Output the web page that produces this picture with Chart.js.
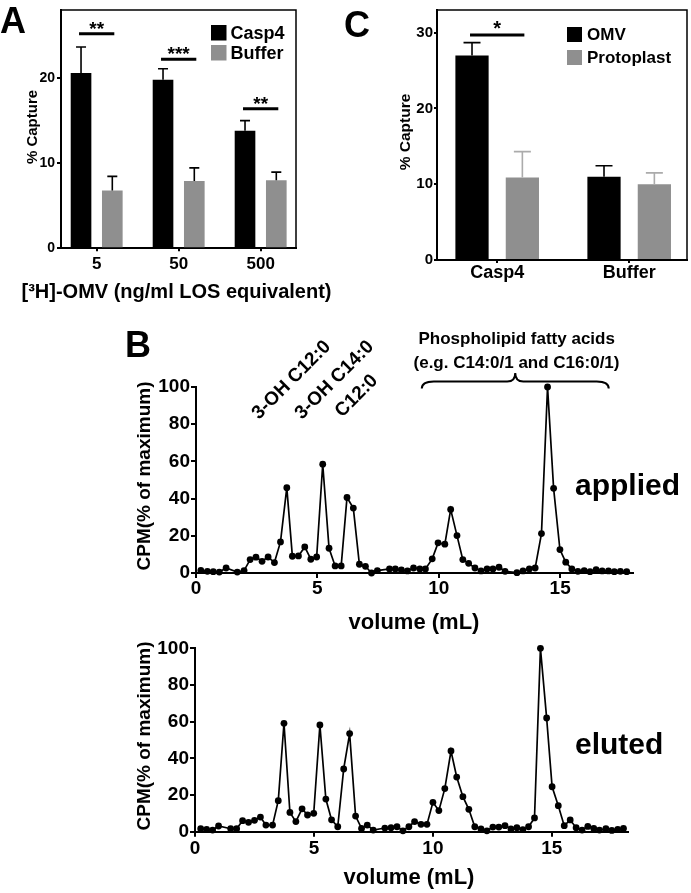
<!DOCTYPE html>
<html>
<head>
<meta charset="utf-8">
<script src="https://cdn.jsdelivr.net/npm/chart.js@4.4.0/dist/chart.umd.min.js"></script>
<style>
body{margin:0;background:#fff;}
#wrap{position:relative;width:691px;height:893px;}
canvas{position:absolute;left:0;top:0;}
</style>
</head>
<body>
<div id="wrap">
<canvas id="chartA" width="691" height="893"></canvas>
<canvas id="chartC" width="691" height="893"></canvas>
<canvas id="chartB1" width="691" height="893"></canvas>
<canvas id="chartB2" width="691" height="893"></canvas>
</div>
<script>
// PANEL A
const catsA = ['5', '50', '500'];
const casp4A = [20.6, 19.8, 13.8];
const casp4ErrA = [3.05, 1.3, 1.2];
const bufferA = [6.8, 7.9, 8.0];
const bufferErrA = [1.65, 1.55, 0.95];
const sigLevelA = [25.2, 22.2, 16.4];
const sigTextA = ['**', '***', '**'];

// PANEL C
const catsC = ['Casp4', 'Buffer'];
const omvC = [27.0, 11.0];
const omvErrC = [1.7, 1.45];
const protoC = [10.9, 10.0];
const protoErrC = [3.4, 1.5];
const sigLevelC = [29.7];
const sigTextC = ['*'];

// PANEL B - applied
const appliedVol = [0.2,0.47,0.71,0.96,1.24,1.7,1.98,2.23,2.47,2.72,2.97,3.23,3.48,3.74,3.97,4.22,4.48,4.73,4.97,5.22,5.48,5.73,5.98,6.22,6.48,6.73,6.98,7.23,7.47,7.97,8.21,8.46,8.71,8.96,9.22,9.45,9.73,9.97,10.25,10.49,10.75,10.99,11.23,11.49,11.74,11.99,12.23,12.48,12.73,13.22,13.47,13.73,13.97,14.23,14.48,14.73,14.99,15.23,15.48,15.73,15.99,16.23,16.48,16.73,16.99,17.23,17.48,17.74];
const appliedCpm = [1.4,0.9,0.7,0.5,2.7,0.5,1.3,7.2,8.5,6.3,8.6,5.6,16.7,45.9,9.0,9.2,14.0,7.4,8.6,58.5,13.3,3.8,3.8,40.6,34.9,4.7,3.6,0,1.3,2.2,2.2,1.6,1.1,2.7,2.2,2.2,7.6,16.2,15.5,34.2,20.1,7.2,5.2,2.7,1.1,2.2,2.2,3.1,0.9,0.2,1.1,2.2,2.7,21.2,100,45.5,12.6,5.8,2.2,0.9,1.3,0.7,1.8,1.1,1.1,0.7,0.9,0.7];

// PANEL B - eluted
const elutedVol = [0.24,0.49,0.74,0.99,1.5,1.75,2.0,2.25,2.5,2.75,2.98,3.26,3.5,3.74,3.99,4.24,4.5,4.73,4.99,5.25,5.5,5.74,6.0,6.25,6.5,6.75,7.0,7.24,7.49,7.98,8.24,8.49,8.74,8.99,9.23,9.5,9.75,10.0,10.25,10.5,10.76,11.0,11.26,11.51,11.76,12.02,12.27,12.52,12.77,13.03,13.28,13.53,13.78,14.02,14.27,14.52,14.78,15.01,15.27,15.52,15.77,16.02,16.27,16.51,16.76,17.0,17.27,17.52,17.77,18.01];
const elutedCpm = [1.6,1.3,0.9,3.1,1.6,1.6,6.0,5.1,6.2,8.0,3.6,3.6,16.9,59.1,10.5,5.5,12.5,9.1,10,58.2,17.8,6.5,2.7,34.2,53.5,8.5,1.8,3.6,0.9,2.0,2.2,2.7,0.5,2.7,5.5,4,4,16,11.5,23.5,44,29.8,19.1,12.2,2.7,1.5,0.5,2.5,2.5,3.3,1.5,2.2,1.1,2.7,7.5,100,62,24.5,14.2,3.3,6.4,2.2,0.9,2.9,1.8,0.9,1.6,0.7,1.3,1.8];
const volTicks = [0, 5, 10, 15];
const cpmTicks = [0, 20, 40, 60, 80, 100];

const FONT = '"Liberation Sans", Arial, Helvetica, sans-serif';
Chart.defaults.font.family = FONT;
Chart.defaults.color = '#000';
const BLACK = '#000000', GREY = '#8f8f8f', LIGHTGREY = '#ababab';

function bold(size){ return {size: size, weight: 'bold', lineHeight: 1}; }

// PLUGINS
const errorBars = {
    id: 'errorBars',
    afterDatasetsDraw(chart, args, opts){
        const ctx = chart.ctx, ys = chart.scales.y;
        chart.data.datasets.forEach((ds, i)=>{
            chart.getDatasetMeta(i).data.forEach((bar, j)=>{
                const top = ys.getPixelForValue(ds.data[j].y + ds.errors[j]);
                ctx.save();
                ctx.strokeStyle = ds.errorColor;
                ctx.lineWidth = 1.6;
                ctx.beginPath();
                ctx.moveTo(bar.x, bar.y);
                ctx.lineTo(bar.x, top);
                ctx.moveTo(bar.x - opts.cap, top);
                ctx.lineTo(bar.x + opts.cap, top);
                ctx.stroke();
                ctx.restore();
            });
        });
    }
};

const sigBars = {
    id: 'sigBars',
    afterDatasetsDraw(chart, args, opts){
        const ctx = chart.ctx, ys = chart.scales.y;
        const m0 = chart.getDatasetMeta(0).data, m1 = chart.getDatasetMeta(1).data;
        opts.levels.forEach((lv, i)=>{
            const y = ys.getPixelForValue(lv);
            const x0 = m0[i].x - 2, x1 = m1[i].x + 2;
            ctx.save();
            ctx.strokeStyle = BLACK;
            ctx.lineWidth = 3;
            ctx.beginPath(); ctx.moveTo(x0, y); ctx.lineTo(x1, y); ctx.stroke();
            ctx.fillStyle = BLACK;
            ctx.font = 'bold ' + opts.size + 'px ' + FONT;
            ctx.textAlign = 'center';
            ctx.textBaseline = 'alphabetic';
            ctx.fillText(opts.texts[i], (x0 + x1) / 2, y + opts.lift);
            ctx.restore();
        });
    }
};

const frame = {
    id: 'frame',
    afterDraw(chart){
        const {ctx, chartArea: a} = chart;
        ctx.save();
        ctx.strokeStyle = BLACK; ctx.lineWidth = 1.5;
        ctx.beginPath();
        ctx.moveTo(a.left, a.top); ctx.lineTo(a.right, a.top); ctx.lineTo(a.right, a.bottom);
        ctx.stroke();
        ctx.restore();
    }
};

const boxLegend = {
    id: 'boxLegend',
    afterDraw(chart, args, opts){
        const ctx = chart.ctx;
        chart.data.datasets.forEach((ds, i)=>{
            const y = opts.y + i * opts.step;
            ctx.save();
            ctx.fillStyle = ds.backgroundColor;
            ctx.fillRect(opts.x, y, opts.box, opts.box);
            ctx.fillStyle = BLACK;
            ctx.font = 'bold ' + opts.size + 'px ' + FONT;
            ctx.textBaseline = 'middle';
            ctx.fillText(ds.label, opts.x + opts.box + opts.gap, y + opts.box / 2 + 1);
            ctx.restore();
        });
    }
};

const texts = {
    id: 'texts',
    afterDraw(chart, args, opts){
        const ctx = chart.ctx;
        opts.items.forEach(it=>{
            ctx.save();
            ctx.translate(it.x, it.y);
            if(it.rot) ctx.rotate(it.rot * Math.PI / 180);
            ctx.fillStyle = BLACK;
            ctx.font = 'bold ' + it.size + 'px ' + FONT;
            ctx.textAlign = it.align || 'center';
            ctx.textBaseline = it.baseline || 'middle';
            ctx.fillText(it.t, 0, 0);
            ctx.restore();
        });
    }
};

const brace = {
    id: 'brace',
    afterDraw(chart, args, opts){
        if(!opts.from) return;
        const ctx = chart.ctx, xs = chart.scales.x, top = chart.chartArea.top;
        const x0 = xs.getPixelForValue(opts.from), x1 = xs.getPixelForValue(opts.to);
        const xm = (x0 + x1) / 2;
        const yb = top + 1.5, yh = top - 5.5, yt = top - 14;
        ctx.save();
        ctx.strokeStyle = BLACK; ctx.lineWidth = 2;
        ctx.beginPath();
        ctx.moveTo(x0, yb);
        ctx.quadraticCurveTo(x0, yh, x0 + 12, yh);
        ctx.lineTo(xm - 8, yh);
        ctx.quadraticCurveTo(xm, yh, xm, yt);
        ctx.quadraticCurveTo(xm, yh, xm + 8, yh);
        ctx.lineTo(x1 - 12, yh);
        ctx.quadraticCurveTo(x1, yh, x1, yb);
        ctx.stroke();
        ctx.restore();
    }
};

// AXES
function yAxis(max, ticks, size, tick, pad, width){
    return {
        min: 0, max: max,
        border: {color: BLACK, width: 2},
        grid: {drawOnChartArea: false, color: BLACK, lineWidth: 2, tickLength: tick},
        ticks: {font: bold(size), color: BLACK, padding: pad},
        afterBuildTicks(s){ s.ticks = ticks.map(v=>({value: v})); },
        afterFit(s){ s.width = width; }
    };
}

function catAxis(cats, min, max, size, pad){
    return {
        type: 'linear', min: min, max: max, offset: false,
        border: {color: BLACK, width: 2},
        grid: {drawOnChartArea: false, offset: false, color: BLACK, lineWidth: 2, tickLength: 3},
        ticks: {font: bold(size), color: BLACK, padding: pad, maxRotation: 0, autoSkip: false,
            callback: v => cats[v - 1]},
        afterBuildTicks(s){ s.ticks = cats.map((c, i)=>({value: i + 1})); },
        afterFit(s){ s.height = 30; }
    };
}

function volAxis(max, pad){
    return {
        type: 'linear', min: 0, max: max,
        border: {color: BLACK, width: 2},
        grid: {drawOnChartArea: false, color: BLACK, lineWidth: 2, tickLength: 5},
        ticks: {font: bold(19), color: BLACK, padding: pad, maxRotation: 0},
        afterBuildTicks(s){ s.ticks = volTicks.map(v=>({value: v})); },
        afterFit(s){ s.height = 30; }
    };
}

function bars(label, vals, errs, color, errColor){
    return {
        label: label,
        data: vals.map((v, i)=>({x: i + 1, y: v})),
        errors: errs,
        errorColor: errColor,
        backgroundColor: color,
        borderWidth: 0,
        barPercentage: 0.66,
        categoryPercentage: 0.763
    };
}

const base = {responsive: false, animation: false, events: []};

// CHART A
new Chart(document.getElementById('chartA'), {
    type: 'bar',
    data: {datasets: [
        bars('Casp4', casp4A, casp4ErrA, BLACK, BLACK),
        bars('Buffer', bufferA, bufferErrA, GREY, BLACK)
    ]},
    options: Object.assign({}, base, {
        layout: {padding: {left: 0, top: 10, right: 395, bottom: 614.7}},
        scales: {
            x: catAxis(catsA, 0.565, 3.431, 17, 5),
            y: yAxis(28, [0, 10, 20], 14, 4, 2, 61)
        },
        plugins: {
            legend: {display: false}, tooltip: {enabled: false},
            errorBars: {cap: 5},
            sigBars: {levels: sigLevelA, texts: sigTextA, size: 19, lift: 1},
            boxLegend: {x: 211, y: 25, box: 15.5, step: 20, gap: 4, size: 18},
            texts: {items: [
                {t: 'A', x: 0, y: 33, size: 36, align: 'left', baseline: 'alphabetic'},
                {t: '% Capture', x: 33, y: 127, size: 15, rot: -90},
                {t: '[³H]-OMV (ng/ml LOS equivalent)', x: 176.5, y: 292, size: 20}
            ]}
        }
    }),
    plugins: [errorBars, sigBars, frame, boxLegend, texts]
});

// CHART C
new Chart(document.getElementById('chartC'), {
    type: 'bar',
    data: {datasets: [
        bars('OMV', omvC, omvErrC, BLACK, BLACK),
        bars('Protoplast', protoC, protoErrC, GREY, LIGHTGREY)
    ]},
    options: Object.assign({}, base, {
        layout: {padding: {left: 397, top: 10, right: 4, bottom: 603}},
        scales: {
            x: catAxis(catsC, 0.544, 2.438, 18, 1),
            y: yAxis(33, [0, 10, 20, 30], 15, 3, 1, 40)
        },
        plugins: {
            legend: {display: false}, tooltip: {enabled: false},
            errorBars: {cap: 8.5},
            sigBars: {levels: sigLevelC, texts: sigTextC, size: 20, lift: 0},
            boxLegend: {x: 567, y: 27, box: 15, step: 23, gap: 5, size: 17},
            texts: {items: [
                {t: 'C', x: 344, y: 36.5, size: 36, align: 'left', baseline: 'alphabetic'},
                {t: '% Capture', x: 406, y: 132, size: 15.5, rot: -90}
            ]}
        }
    }),
    plugins: [errorBars, sigBars, frame, boxLegend, texts]
});

// CHART B
function profile(vol, cpm){
    return {
        data: vol.map((v, i)=>({x: v, y: cpm[i]})),
        showLine: true,
        borderColor: BLACK, borderWidth: 1.7,
        pointRadius: 3.4, pointBackgroundColor: BLACK, pointBorderWidth: 0,
        clip: false
    };
}

new Chart(document.getElementById('chartB1'), {
    type: 'scatter',
    data: {datasets: [profile(appliedVol, appliedCpm)]},
    options: Object.assign({}, base, {
        layout: {padding: {left: 136, top: 387, right: 58, bottom: 290}},
        scales: {
            x: volAxis(18, 1),
            y: yAxis(100, cpmTicks, 19, 5, 1, 60)
        },
        plugins: {
            legend: {display: false}, tooltip: {enabled: false},
            brace: {from: 9.3, to: 17.0},
            texts: {items: [
                {t: 'B', x: 125, y: 356.7, size: 36, align: 'left', baseline: 'alphabetic'},
                {t: 'CPM(% of maximum)', x: 144.5, y: 476, size: 19, rot: -90},
                {t: 'volume (mL)', x: 414, y: 623, size: 22},
                {t: 'applied', x: 575, y: 495, size: 30, align: 'left', baseline: 'alphabetic'},
                {t: '3-OH C12:0', x: 259, y: 420, size: 19, rot: -45, align: 'left', baseline: 'alphabetic'},
                {t: '3-OH C14:0', x: 302, y: 420, size: 19, rot: -45, align: 'left', baseline: 'alphabetic'},
                {t: 'C12:0', x: 342, y: 418, size: 19, rot: -45, align: 'left', baseline: 'alphabetic'},
                {t: 'Phospholipid fatty acids', x: 516.7, y: 339, size: 17},
                {t: '(e.g. C14:0/1 and C16:0/1)', x: 516.5, y: 363.5, size: 17}
            ]}
        }
    }),
    plugins: [brace, texts]
});

new Chart(document.getElementById('chartB2'), {
    type: 'scatter',
    data: {datasets: [profile(elutedVol, elutedCpm)]},
    options: Object.assign({}, base, {
        layout: {padding: {left: 135, top: 648.3, right: 63, bottom: 31.3}},
        scales: {
            x: volAxis(18.2, 2.5),
            y: yAxis(100, cpmTicks, 19, 5, 1, 60)
        },
        plugins: {
            legend: {display: false}, tooltip: {enabled: false},
            texts: {items: [
                {t: 'CPM(% of maximum)', x: 144.5, y: 736, size: 19, rot: -90},
                {t: 'volume (mL)', x: 409, y: 878, size: 22},
                {t: 'eluted', x: 575, y: 754, size: 30, align: 'left', baseline: 'alphabetic'}
            ]}
        }
    }),
    plugins: [texts]
});
</script>
</body>
</html>
